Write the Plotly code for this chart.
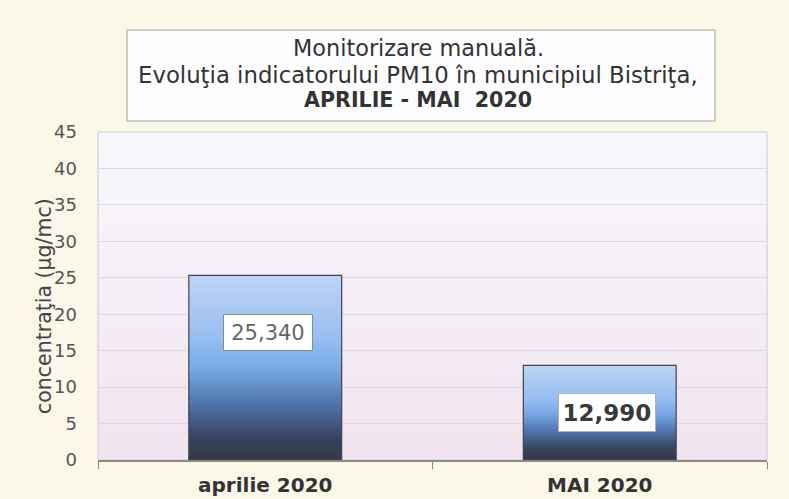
import plotly.graph_objects as go

# ---- data ----
categories = ["aprilie 2020", "MAI 2020"]
values = [25.340, 12.990]
value_text = ["25,340", "12,990"]
y_ticks = [0, 5, 10, 15, 20, 25, 30, 35, 40, 45]
title_lines = ["Monitorizare manuală.",
               "Evoluţia indicatorului PM10 în municipiul Bistriţa,",
               "APRILIE - MAI  2020"]
y_title = "concentraţia (µg/mc)"

# ---- layout / style ----
W, H = 789, 499
ML, MR, MT, MB = 98, 22, 132, 39
PW, PH = W - ML - MR, H - MT - MB
FONT = "DejaVu Sans"


def px(xp):
    return (xp - ML) / PW


def py(yp):
    return (H - MB - yp) / PH


bar_width = 0.457
label_frac = [0.69, 0.50]
label_xshift = [3, 7]
y_range = [0, 45]
x_range = [-0.5, len(categories) - 0.5]
bar_scale = [[0, "#343947"], [0.12, "#38435e"], [0.3, "#4f73aa"],
             [0.5, "#79aae6"], [0.65, "#95bdf0"], [1, "#bed4f6"]]

fig = go.Figure()

# plot-area background gradient (semi transparent so gridlines show)
fig.add_trace(go.Scatter(
    x=[x_range[0], x_range[1], x_range[1], x_range[0], x_range[0]],
    y=[y_range[0], y_range[0], y_range[1], y_range[1], y_range[0]],
    fill="toself", mode="lines", line=dict(width=0),
    fillgradient=dict(type="vertical",
                      colorscale=[[0, "rgba(232,196,220,0.40)"],
                                  [1, "rgba(232,196,220,0.0)"]]),
    hoverinfo="skip", showlegend=False))

# bars with vertical gradient
for i, v in enumerate(values):
    x0, x1 = i - bar_width / 2, i + bar_width / 2
    fig.add_trace(go.Scatter(
        x=[x0, x1, x1, x0, x0], y=[0, 0, v, v, 0],
        fill="toself", mode="lines",
        line=dict(color="#404552", width=1.2),
        fillgradient=dict(type="vertical", colorscale=bar_scale),
        hoverinfo="skip", showlegend=False, name=categories[i]))

# data labels
label_styles = [
    dict(font=dict(family=FONT, size=21, color="#666666"), bordercolor="#8a8a8a", width=80, height=27),
    dict(font=dict(family=FONT, size=23, color="#3a3a3a", weight="bold"), bordercolor="#b0b0b0", width=88, height=29),
]
for i, v in enumerate(values):
    st = label_styles[i]
    fig.add_annotation(
        x=i, y=v * label_frac[i], xref="x", yref="y",
        text=value_text[i], showarrow=False, xshift=label_xshift[i],
        bgcolor="white", borderwidth=1, borderpad=4, **st)

# title box
fig.add_shape(type="rect", xref="paper", yref="paper",
              x0=px(127), x1=px(715), y0=py(121), y1=py(30),
              fillcolor="#fdfdff", line=dict(color="#a0a0a0", width=1))
title_y = [48, 75, 100]
title_fonts = [dict(family=FONT, size=22.4, color="#333333"),
               dict(family=FONT, size=22.8, color="#333333"),
               dict(family=FONT, size=20.6, color="#333333", weight="bold")]
for line, yy, f in zip(title_lines, title_y, title_fonts):
    fig.add_annotation(xref="paper", yref="paper", x=px(418), y=py(yy),
                       xanchor="center", yanchor="middle", text=line,
                       showarrow=False, font=f)

# y axis title
fig.add_annotation(
    xref="paper", yref="paper", x=px(44), y=py(306),
    xanchor="center", yanchor="middle", textangle=-90,
    text=y_title, showarrow=False,
    font=dict(family=FONT, size=20.5, color="#444444"))

# plot border
fig.add_shape(type="rect", xref="paper", yref="paper", x0=0, x1=1, y0=0, y1=1,
              line=dict(color="#c8c8d2", width=1), layer="below")

fig.update_layout(
    width=W, height=H,
    margin=dict(l=ML, r=MR, t=MT, b=MB, autoexpand=False),
    paper_bgcolor="#fbf8ea",
    plot_bgcolor="#f8f8fc",
    showlegend=False,
    xaxis=dict(range=x_range, tickmode="array", tickvals=list(range(len(categories))),
               ticktext=["<b>" + c + "</b>" for c in categories],
               tickfont=dict(family=FONT, size=20, color="#333333"),
               ticks="", ticklabelstandoff=6, automargin=False,
               showline=True, linecolor="#8a8a8a", linewidth=1.5,
               showgrid=False, zeroline=False,
               minor=dict(tickmode="array",
                          tickvals=[k - 0.5 for k in range(len(categories) + 1)],
                          ticks="outside", ticklen=7, tickcolor="#8a8a8a",
                          showgrid=False)),
    yaxis=dict(range=y_range, tickmode="array", tickvals=y_ticks,
               tickfont=dict(family=FONT, size=18, color="#555555"),
               ticks="", ticklabelstandoff=20, automargin=False,
               showgrid=True, gridcolor="#dcdce6", gridwidth=1,
               zeroline=False, showline=False),
)

fig.write_html("out.html", config={"displayModeBar": False},
               post_script="document.body.style.margin='0';document.body.style.padding='0';")
